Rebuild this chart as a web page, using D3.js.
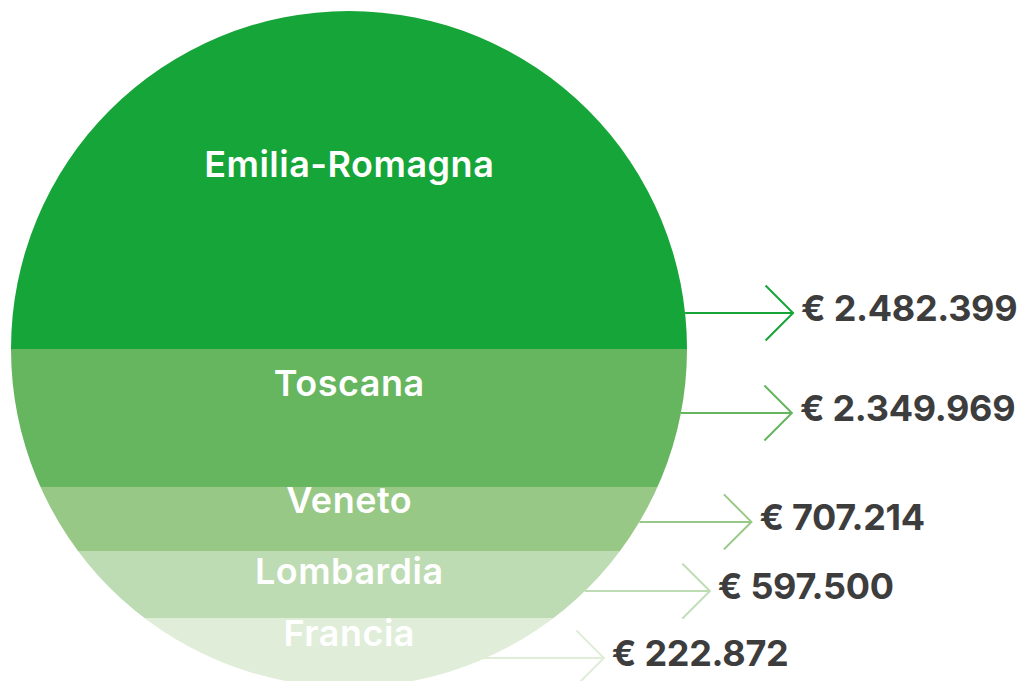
<!DOCTYPE html>
<html>
<head>
<meta charset="utf-8">
<script src="https://cdn.jsdelivr.net/npm/d3@7"></script>
<style>
  html, body { margin: 0; padding: 0; background: #ffffff; }
  svg { display: block; }
</style>
</head>
<body>
<svg id="chart" width="1024" height="681"></svg>
<script>
// ---- data ----
const categories = ["Emilia-Romagna", "Toscana", "Veneto", "Lombardia", "Francia"];
const values = [2482399, 2349969, 707214, 597500, 222872];
// cumulative share of the circle's diameter at which each band ends (as drawn)
const bandEnds = [0.5, 0.704, 0.799, 0.898, 1.0];
const colors = ["#15a538", "#66b55f", "#98c886", "#bddcb3", "#e0eed9"];

// ---- layout ----
const W = 1024, H = 681;
const cx = 349, cy = 349, r = 338;
const labelBaseline = [166, 47, 26, 33, 28];   // offset from band top
const arrowOffset = [-36, 64, 35, 40, 40];    // from band top (or bottom when negative)
const arrowLen = [108, 111, 112, 125, 118];
const chev = 27.5;
const ls = 0.5;

const svg = d3.select("#chart");
const y = d3.scaleLinear().domain([0, 1]).range([cy - r, cy + r]);
const fmt = v => "€ " + d3.format(",")(v).replace(/,/g, ".");

const defs = svg.append("defs");
defs.append("clipPath").attr("id", "circ")
  .append("circle").attr("cx", cx).attr("cy", cy).attr("r", r);

const bands = categories.map((c, i) => ({
  name: c, value: values[i], color: colors[i],
  y0: y(i === 0 ? 0 : bandEnds[i - 1]), y1: y(bandEnds[i]), i
}));

const g = svg.append("g").attr("clip-path", "url(#circ)");
g.selectAll("rect").data(bands).join("rect")
  .attr("x", cx - r - 2).attr("width", 2 * r + 4)
  .attr("y", d => d.y0).attr("height", d => d.y1 - d.y0 + (d.i < 4 ? 0.5 : 0))
  .attr("fill", d => d.color);

svg.selectAll("text.band").data(bands).join("text")
  .attr("class", "band")
  .attr("x", cx + ls / 2).attr("y", d => d.y0 + labelBaseline[d.i])
  .attr("text-anchor", "middle")
  .attr("fill", "#ffffff")
  .style("font-family", "Inter, 'Liberation Sans', sans-serif")
  .style("font-weight", 600)
  .style("font-size", "36px")
  .style("letter-spacing", ls + "px")
  .text(d => d.name);

bands.forEach(d => {
  const ay = arrowOffset[d.i] < 0 ? d.y1 + arrowOffset[d.i] : d.y0 + arrowOffset[d.i];
  const dy = ay - cy;
  const x0 = cx + Math.sqrt(Math.max(0, r * r - dy * dy));
  const tip = x0 + arrowLen[d.i];
  const a = svg.append("g");
  a.append("line").attr("x1", x0 - (d.i === 4 ? 11 : 0)).attr("x2", tip)
    .attr("y1", ay).attr("y2", ay)
    .attr("stroke", d.color).attr("stroke-width", 2);
  a.append("path")
    .attr("d", `M${tip - chev},${ay - chev}L${tip},${ay}L${tip - chev},${ay + chev}`)
    .attr("fill", "none").attr("stroke", d.color).attr("stroke-width", 2);
  a.append("text")
    .attr("x", tip + 8).attr("y", ay + 8)
    .attr("fill", "#3d3d3d")
    .style("font-family", "Inter, 'Liberation Sans', sans-serif")
    .style("font-weight", 700)
    .style("font-size", "36px")
    .style("letter-spacing", "-0.3px")
    .text(fmt(d.value));
});
</script>
</body>
</html>
